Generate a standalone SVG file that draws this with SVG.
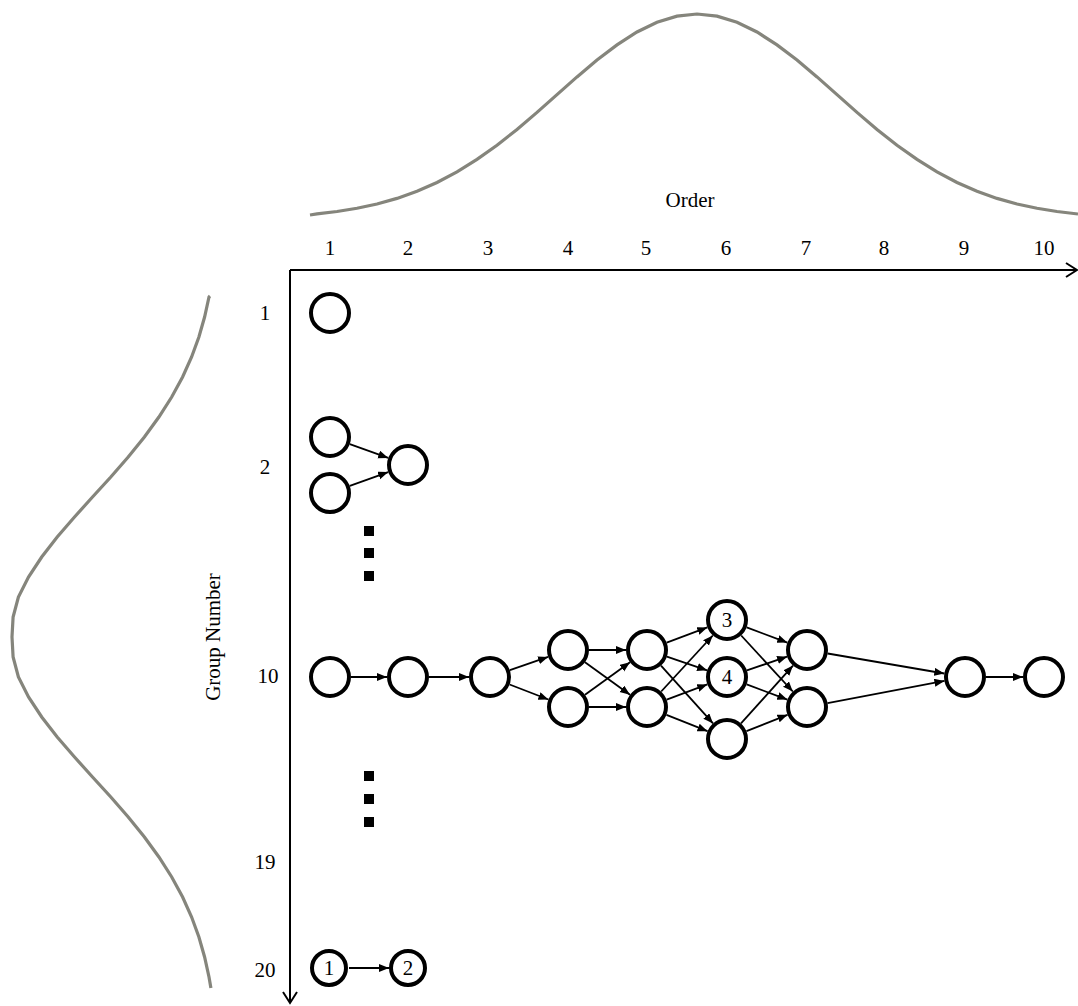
<svg xmlns="http://www.w3.org/2000/svg" width="1078" height="1006" viewBox="0 0 1078 1006">
<style>
.lbl{font-family:"Liberation Serif","Times New Roman",serif;font-size:21px;fill:#000;text-anchor:middle}
.nd{fill:#fff;stroke:#000;stroke-width:4}
.ed{stroke:#000;stroke-width:1.8;fill:none;marker-end:url(#ah)}
.gs{fill:none;stroke:#85857c;stroke-width:3.2}
.ax{stroke:#000;stroke-width:2;fill:none}
</style>
<defs>
<marker id="ah" markerUnits="userSpaceOnUse" markerWidth="11" markerHeight="9" refX="10" refY="4" orient="auto">
<path d="M0,0 L10,4 L0,8 z" fill="#000"/>
</marker>
</defs>
<rect width="1078" height="1006" fill="#fff"/>
<g id="curves">
<polyline class="gs" points="310,215 317,213.9 337,211.5 357,208.3 377,204 397,198.4 417,191.3 437,182.5 457,171.8 477,159.3 497,145.2 517,129.4 537,112.4 557,94.6 577,76.9 597,60.1 617,44.9 637,32 657,22.2 677,16.1 697,14 717,16.1 737,22.2 757,32 777,44.9 797,60.1 817,76.9 837,94.6 857,112.4 877,129.4 897,145.2 917,159.3 937,171.8 957,182.5 977,191.3 997,198.4 1017,204 1037,208.3 1057,211.5 1078,214"/>
<polyline class="gs" points="210,296 209,297 204.6,317 198.9,337 191.6,357 182.6,377 171.7,397 158.9,417 144.4,437 128.2,457 110.8,477 92.5,497 74.5,517 57.2,537 41.7,557 28.5,577 18.4,597 13.1,617 12,637 13.1,657 18.4,677 28.5,697 41.7,717 57.2,737 74.5,757 92.5,777 110.8,797 128.2,817 144.4,837 158.9,857 171.7,877 182.6,897 191.6,917 198.9,937 204.6,957 209,977 210.9,988"/>
</g>
<g id="axes">
<path class="ax" d="M290,270 H1077 M1066,263 L1077,270 L1066,277"/>
<path class="ax" d="M290,270 V1003 M283,992 L290,1003 L297,992"/>
</g>
<g id="axis-labels">
<text class="lbl" x="690" y="207">Order</text>
<text class="lbl" transform="translate(220,637) rotate(-90)">Group Number</text>
<text class="lbl" x="330" y="255">1</text>
<text class="lbl" x="408" y="255">2</text>
<text class="lbl" x="488" y="255">3</text>
<text class="lbl" x="568" y="255">4</text>
<text class="lbl" x="646" y="255">5</text>
<text class="lbl" x="726" y="255">6</text>
<text class="lbl" x="806" y="255">7</text>
<text class="lbl" x="884" y="255">8</text>
<text class="lbl" x="964" y="255">9</text>
<text class="lbl" x="1044" y="255">10</text>
<text class="lbl" x="265" y="320">1</text>
<text class="lbl" x="265" y="474">2</text>
<text class="lbl" x="268" y="683">10</text>
<text class="lbl" x="265" y="869">19</text>
<text class="lbl" x="265" y="977">20</text>
</g>
<g id="ellipsis">
<rect x="364" y="526" width="10" height="10"/>
<rect x="364" y="548" width="10" height="10"/>
<rect x="364" y="571" width="10" height="10"/>
<rect x="364" y="771" width="10" height="10"/>
<rect x="364" y="794" width="10" height="10"/>
<rect x="364" y="817" width="10" height="10"/>
</g>
<g id="connectors">
<line class="ed" x1="349.8" y1="444.1" x2="388.2" y2="457.9"/>
<line class="ed" x1="349.8" y1="485.9" x2="388.2" y2="472.1"/>
<line class="ed" x1="351" y1="677" x2="387" y2="677"/>
<line class="ed" x1="429" y1="677" x2="469" y2="677"/>
<line class="ed" x1="509.9" y1="670.1" x2="548.1" y2="656.9"/>
<line class="ed" x1="509.6" y1="684.5" x2="548.4" y2="699.5"/>
<line class="ed" x1="589" y1="650" x2="626" y2="650"/>
<line class="ed" x1="589" y1="707" x2="626" y2="707"/>
<line class="ed" x1="585" y1="662.3" x2="630" y2="694.7"/>
<line class="ed" x1="585" y1="694.7" x2="630" y2="662.3"/>
<line class="ed" x1="666.7" y1="642.6" x2="707.3" y2="627.4"/>
<line class="ed" x1="666.9" y1="656.7" x2="707.1" y2="670.3"/>
<line class="ed" x1="661" y1="665.6" x2="713" y2="723.4"/>
<line class="ed" x1="661.2" y1="691.5" x2="712.8" y2="635.5"/>
<line class="ed" x1="666.7" y1="699.6" x2="707.3" y2="684.4"/>
<line class="ed" x1="666.5" y1="714.8" x2="707.5" y2="731.2"/>
<line class="ed" x1="746.7" y1="627.4" x2="787.3" y2="642.6"/>
<line class="ed" x1="741.2" y1="635.5" x2="792.8" y2="691.5"/>
<line class="ed" x1="746.9" y1="670.3" x2="787.1" y2="656.7"/>
<line class="ed" x1="746.7" y1="684.4" x2="787.3" y2="699.6"/>
<line class="ed" x1="741" y1="723.4" x2="793" y2="665.6"/>
<line class="ed" x1="746.5" y1="731.2" x2="787.5" y2="714.8"/>
<line class="ed" x1="827.7" y1="653.5" x2="944.3" y2="673.5"/>
<line class="ed" x1="827.6" y1="703.1" x2="944.4" y2="680.9"/>
<line class="ed" x1="986" y1="677" x2="1023" y2="677"/>
<line class="ed" x1="349" y1="968" x2="389" y2="968"/>
</g>
<g id="node-g1"><circle class="nd" cx="330" cy="313" r="19"/></g>
<g id="node-g2a"><circle class="nd" cx="330" cy="437" r="19"/></g>
<g id="node-g2b"><circle class="nd" cx="330" cy="493" r="19"/></g>
<g id="node-g2c"><circle class="nd" cx="408" cy="465" r="19"/></g>
<g id="node-g10-1"><circle class="nd" cx="330" cy="677" r="19"/></g>
<g id="node-g10-2"><circle class="nd" cx="408" cy="677" r="19"/></g>
<g id="node-g10-3"><circle class="nd" cx="490" cy="677" r="19"/></g>
<g id="node-g10-4a"><circle class="nd" cx="568" cy="650" r="19"/></g>
<g id="node-g10-4b"><circle class="nd" cx="568" cy="707" r="19"/></g>
<g id="node-g10-5a"><circle class="nd" cx="647" cy="650" r="19"/></g>
<g id="node-g10-5b"><circle class="nd" cx="647" cy="707" r="19"/></g>
<g id="node-g10-6a"><circle class="nd" cx="727" cy="620" r="19"/><text class="lbl" x="727" y="627">3</text></g>
<g id="node-g10-6b"><circle class="nd" cx="727" cy="677" r="19"/><text class="lbl" x="727" y="684">4</text></g>
<g id="node-g10-6c"><circle class="nd" cx="727" cy="739" r="19"/></g>
<g id="node-g10-7a"><circle class="nd" cx="807" cy="650" r="19"/></g>
<g id="node-g10-7b"><circle class="nd" cx="807" cy="707" r="19"/></g>
<g id="node-g10-9"><circle class="nd" cx="965" cy="677" r="19"/></g>
<g id="node-g10-10"><circle class="nd" cx="1044" cy="677" r="19"/></g>
<g id="node-g20-1"><circle class="nd" cx="329" cy="968" r="17"/><text class="lbl" x="329" y="975">1</text></g>
<g id="node-g20-2"><circle class="nd" cx="408" cy="968" r="17"/><text class="lbl" x="408" y="975">2</text></g>
</svg>
